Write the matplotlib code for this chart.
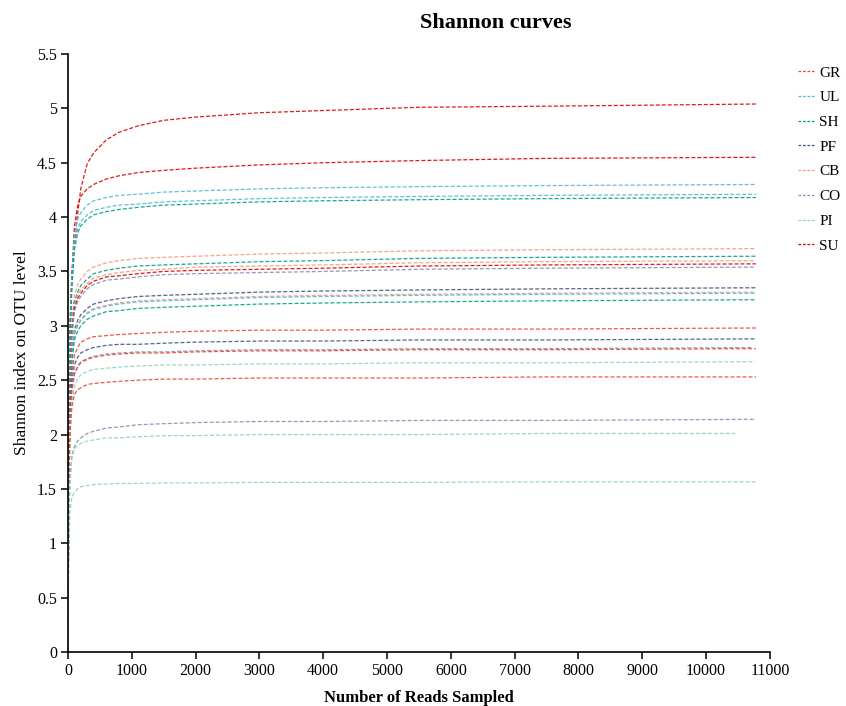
import matplotlib
matplotlib.use('Agg')
import matplotlib.pyplot as plt
from matplotlib.ticker import MultipleLocator, FuncFormatter

plt.rcParams['font.family'] = ['Liberation Serif', 'DejaVu Serif']

reads = [0, 10, 30, 60, 100, 150, 200, 300, 400, 600, 800, 1100, 1500,
         2000, 3000, 4000, 5500, 7500]

groups = ['GR', 'UL', 'SH', 'PF', 'CB', 'CO', 'PI', 'SU']
group_colors = ['#E64B35', '#4DBBD5', '#00A087', '#3C5488',
                '#F39B7F', '#8491B4', '#91D1C2', '#DC0000']

# one entry per sample: group, last read count, shannon values
sample_group = ['SU', 'SU', 'UL', 'UL', 'SH', 'CB', 'SH', 'CB', 'SU', 'CO',
                'PF', 'CB', 'UL', 'SH', 'GR', 'PF', 'CO', 'GR', 'PI', 'GR',
                'CO', 'PI', 'PI']
sample_end = [10780, 10780, 10780, 10780, 10780, 10780, 10780, 10780, 10780, 10780,
              10780, 10780, 10780, 10780, 10780, 10780, 10730, 10780, 10760, 10780,
              10780, 10460, 10780]
shannon = [
    [0, 2.02, 3.02, 3.48, 3.75, 4.03, 4.26, 4.49, 4.59, 4.71, 4.78, 4.84, 4.89, 4.92, 4.96, 4.98, 5.01, 5.02, 5.04],
    [0, 1.91, 2.91, 3.46, 3.91, 4.10, 4.19, 4.26, 4.30, 4.35, 4.38, 4.41, 4.43, 4.45, 4.48, 4.50, 4.52, 4.54, 4.55],
    [0, 1.94, 2.92, 3.44, 3.83, 3.98, 4.04, 4.11, 4.15, 4.18, 4.20, 4.21, 4.23, 4.24, 4.26, 4.27, 4.28, 4.29, 4.30],
    [0, 1.89, 2.86, 3.37, 3.75, 3.89, 3.96, 4.02, 4.06, 4.09, 4.11, 4.12, 4.14, 4.15, 4.17, 4.18, 4.19, 4.20, 4.21],
    [0, 1.88, 2.84, 3.34, 3.70, 3.85, 3.92, 3.98, 4.02, 4.05, 4.07, 4.09, 4.11, 4.12, 4.14, 4.15, 4.16, 4.17, 4.18],
    [0, 1.67, 2.60, 3.04, 3.28, 3.38, 3.43, 3.50, 3.54, 3.58, 3.60, 3.62, 3.63, 3.64, 3.66, 3.67, 3.69, 3.70, 3.71],
    [0, 1.64, 2.55, 2.98, 3.22, 3.31, 3.37, 3.43, 3.48, 3.51, 3.53, 3.55, 3.56, 3.57, 3.59, 3.60, 3.62, 3.63, 3.64],
    [0, 1.62, 2.52, 2.95, 3.19, 3.28, 3.33, 3.39, 3.44, 3.47, 3.49, 3.51, 3.52, 3.54, 3.55, 3.56, 3.58, 3.59, 3.60],
    [0, 1.61, 2.50, 2.93, 3.16, 3.25, 3.30, 3.37, 3.41, 3.45, 3.46, 3.48, 3.50, 3.51, 3.52, 3.53, 3.55, 3.56, 3.57],
    [0, 1.59, 2.48, 2.90, 3.13, 3.22, 3.27, 3.34, 3.38, 3.42, 3.43, 3.45, 3.47, 3.48, 3.49, 3.50, 3.52, 3.53, 3.54],
    [0, 1.51, 2.35, 2.75, 2.96, 3.05, 3.10, 3.16, 3.20, 3.23, 3.25, 3.27, 3.28, 3.29, 3.31, 3.32, 3.33, 3.34, 3.35],
    [0, 1.49, 2.32, 2.71, 2.93, 3.01, 3.06, 3.12, 3.16, 3.19, 3.21, 3.23, 3.24, 3.25, 3.27, 3.28, 3.29, 3.30, 3.31],
    [0, 1.49, 2.31, 2.71, 2.92, 3.00, 3.05, 3.11, 3.15, 3.18, 3.20, 3.22, 3.23, 3.24, 3.26, 3.27, 3.28, 3.29, 3.30],
    [0, 1.46, 2.27, 2.66, 2.87, 2.95, 3.00, 3.06, 3.09, 3.13, 3.14, 3.16, 3.17, 3.18, 3.20, 3.21, 3.22, 3.23, 3.24],
    [0, 1.49, 2.24, 2.56, 2.73, 2.80, 2.85, 2.88, 2.90, 2.91, 2.92, 2.93, 2.94, 2.95, 2.96, 2.96, 2.97, 2.97, 2.98],
    [0, 1.44, 2.16, 2.48, 2.64, 2.71, 2.75, 2.78, 2.80, 2.82, 2.83, 2.83, 2.84, 2.85, 2.86, 2.86, 2.87, 2.87, 2.88],
    [0, 1.40, 2.10, 2.41, 2.56, 2.63, 2.67, 2.70, 2.72, 2.74, 2.75, 2.76, 2.76, 2.77, 2.78, 2.78, 2.79, 2.79, 2.80],
    [0, 1.40, 2.09, 2.40, 2.55, 2.62, 2.66, 2.69, 2.71, 2.73, 2.74, 2.75, 2.75, 2.76, 2.77, 2.77, 2.78, 2.78, 2.79],
    [0, 1.34, 2.00, 2.30, 2.44, 2.51, 2.55, 2.58, 2.60, 2.61, 2.62, 2.63, 2.64, 2.64, 2.65, 2.65, 2.66, 2.66, 2.67],
    [0, 1.35, 2.00, 2.25, 2.37, 2.41, 2.43, 2.46, 2.47, 2.48, 2.49, 2.50, 2.51, 2.51, 2.52, 2.52, 2.52, 2.53, 2.53],
    [0, 1.15, 1.60, 1.80, 1.89, 1.94, 1.97, 2.01, 2.03, 2.06, 2.07, 2.09, 2.10, 2.11, 2.12, 2.12, 2.13, 2.13, 2.14],
    [0, 1.10, 1.55, 1.78, 1.87, 1.90, 1.92, 1.94, 1.95, 1.97, 1.97, 1.98, 1.99, 1.99, 2.00, 2.00, 2.00, 2.01, 2.01],
    [0, 0.95, 1.30, 1.42, 1.47, 1.50, 1.52, 1.53, 1.54, 1.545, 1.55, 1.55, 1.555, 1.555, 1.56, 1.56, 1.56, 1.565, 1.565],
]

fig = plt.figure(figsize=(8.46, 7.06), dpi=100)
ax = fig.add_axes([0.0804, 0.0765, 0.8296, 0.847])

color_of = dict(zip(groups, group_colors))
for g, end, ys in zip(sample_group, sample_end, shannon):
    ax.plot(reads + [end], ys, color=color_of[g], lw=0.9, alpha=0.9,
            dashes=(3.2, 1.6))

# legend handles, one per group
handles = [plt.Line2D([], [], color=c, lw=0.9, dashes=(2.2, 1.4))
           for c in group_colors]
fig.legend(handles, groups, loc='upper left', bbox_to_anchor=(0.943, 0.9065),
           frameon=False, fontsize=11, handlelength=1.05, handletextpad=0.35,
           labelspacing=0.72, borderaxespad=0, borderpad=0)

ax.set_xlim(0, 11000)
ax.set_ylim(0, 5.5)
ax.xaxis.set_major_locator(MultipleLocator(1000))
ax.yaxis.set_major_locator(MultipleLocator(0.5))
ax.yaxis.set_major_formatter(FuncFormatter(lambda v, p: f"{v:g}"))
ax.spines['top'].set_visible(False)
ax.spines['right'].set_visible(False)
for s in ['left', 'bottom']:
    ax.spines[s].set_linewidth(1.2)
ax.tick_params(direction='out', length=5, width=1.1, labelsize=11.5, pad=3)

ax.set_xlabel('Number of Reads Sampled', fontsize=12, fontweight='bold', labelpad=8)
ax.set_ylabel('Shannon index on OTU level', fontsize=12.5, labelpad=5)
fig.text(0.586, 0.968, 'Shannon curves', ha='center', va='center',
         fontsize=16, fontweight='bold')

fig.savefig('out.png', dpi=100)
